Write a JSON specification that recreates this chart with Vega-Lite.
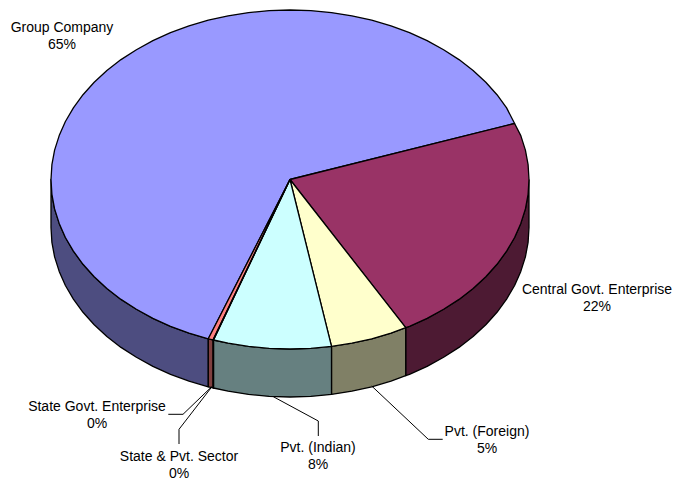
{"$schema":"https://vega.github.io/schema/vega-lite/v6.json","width":677,"height":484,"padding":0,"autosize":{"type":"none"},"background":"white","view":{"stroke":null},"config":{"text":{"lineBreak":"\n"}},
"layer":[
{"data":{"values":[
{"p":"Group Company side","i":0,"x":208.3,"y":338.8},{"p":"Group Company side","i":1,"x":189,"y":333.1},{"p":"Group Company side","i":2,"x":170.5,"y":326.3},{"p":"Group Company side","i":3,"x":152.9,"y":318.4},{"p":"Group Company side","i":4,"x":136.4,"y":309.3},{"p":"Group Company side","i":5,"x":121,"y":299.4},{"p":"Group Company side","i":6,"x":106.9,"y":288.5},{"p":"Group Company side","i":7,"x":94.2,"y":276.7},{"p":"Group Company side","i":8,"x":83,"y":264.3},{"p":"Group Company side","i":9,"x":73.4,"y":251.1},{"p":"Group Company side","i":10,"x":65.4,"y":237.5},{"p":"Group Company side","i":11,"x":59.2,"y":223.4},{"p":"Group Company side","i":12,"x":54.6,"y":208.9},{"p":"Group Company side","i":13,"x":51.9,"y":194.3},{"p":"Group Company side","i":14,"x":51,"y":179.5},{"p":"Group Company side","i":15,"x":51,"y":227.5},{"p":"Group Company side","i":16,"x":51.9,"y":242.3},{"p":"Group Company side","i":17,"x":54.6,"y":256.9},{"p":"Group Company side","i":18,"x":59.2,"y":271.4},{"p":"Group Company side","i":19,"x":65.4,"y":285.5},{"p":"Group Company side","i":20,"x":73.4,"y":299.1},{"p":"Group Company side","i":21,"x":83,"y":312.3},{"p":"Group Company side","i":22,"x":94.2,"y":324.7},{"p":"Group Company side","i":23,"x":106.9,"y":336.5},{"p":"Group Company side","i":24,"x":121,"y":347.4},{"p":"Group Company side","i":25,"x":136.4,"y":357.3},{"p":"Group Company side","i":26,"x":152.9,"y":366.4},{"p":"Group Company side","i":27,"x":170.5,"y":374.3},{"p":"Group Company side","i":28,"x":189,"y":381.1},{"p":"Group Company side","i":29,"x":208.3,"y":386.8},{"p":"Group Company side","i":30,"x":208.3,"y":338.8},
{"p":"Central side","i":0,"x":529,"y":179.5},{"p":"Central side","i":1,"x":528.1,"y":194.3},{"p":"Central side","i":2,"x":525.4,"y":208.9},{"p":"Central side","i":3,"x":520.8,"y":223.4},{"p":"Central side","i":4,"x":514.6,"y":237.5},{"p":"Central side","i":5,"x":506.6,"y":251.1},{"p":"Central side","i":6,"x":497,"y":264.3},{"p":"Central side","i":7,"x":485.8,"y":276.7},{"p":"Central side","i":8,"x":473.1,"y":288.5},{"p":"Central side","i":9,"x":459,"y":299.4},{"p":"Central side","i":10,"x":443.6,"y":309.3},{"p":"Central side","i":11,"x":427.1,"y":318.4},{"p":"Central side","i":12,"x":409.5,"y":326.3},{"p":"Central side","i":13,"x":405.7,"y":327.7},{"p":"Central side","i":14,"x":405.7,"y":375.7},{"p":"Central side","i":15,"x":409.5,"y":374.3},{"p":"Central side","i":16,"x":427.1,"y":366.4},{"p":"Central side","i":17,"x":443.6,"y":357.3},{"p":"Central side","i":18,"x":459,"y":347.4},{"p":"Central side","i":19,"x":473.1,"y":336.5},{"p":"Central side","i":20,"x":485.8,"y":324.7},{"p":"Central side","i":21,"x":497,"y":312.3},{"p":"Central side","i":22,"x":506.6,"y":299.1},{"p":"Central side","i":23,"x":514.6,"y":285.5},{"p":"Central side","i":24,"x":520.8,"y":271.4},{"p":"Central side","i":25,"x":525.4,"y":256.9},{"p":"Central side","i":26,"x":528.1,"y":242.3},{"p":"Central side","i":27,"x":529,"y":227.5},{"p":"Central side","i":28,"x":529,"y":179.5},
{"p":"Foreign side","i":0,"x":405.7,"y":327.7},{"p":"Foreign side","i":1,"x":391,"y":333.1},{"p":"Foreign side","i":2,"x":371.7,"y":338.8},{"p":"Foreign side","i":3,"x":351.9,"y":343.2},{"p":"Foreign side","i":4,"x":331.5,"y":346.4},{"p":"Foreign side","i":5,"x":331.5,"y":394.4},{"p":"Foreign side","i":6,"x":351.9,"y":391.2},{"p":"Foreign side","i":7,"x":371.7,"y":386.8},{"p":"Foreign side","i":8,"x":391,"y":381.1},{"p":"Foreign side","i":9,"x":405.7,"y":375.7},{"p":"Foreign side","i":10,"x":405.7,"y":327.7},
{"p":"Indian side","i":0,"x":331.5,"y":346.4},{"p":"Indian side","i":1,"x":310.8,"y":348.4},{"p":"Indian side","i":2,"x":290,"y":349},{"p":"Indian side","i":3,"x":269.2,"y":348.4},{"p":"Indian side","i":4,"x":248.5,"y":346.4},{"p":"Indian side","i":5,"x":228.1,"y":343.2},{"p":"Indian side","i":6,"x":213.5,"y":340},{"p":"Indian side","i":7,"x":213.5,"y":388},{"p":"Indian side","i":8,"x":228.1,"y":391.2},{"p":"Indian side","i":9,"x":248.5,"y":394.4},{"p":"Indian side","i":10,"x":269.2,"y":396.4},{"p":"Indian side","i":11,"x":290,"y":397},{"p":"Indian side","i":12,"x":310.8,"y":396.4},{"p":"Indian side","i":13,"x":331.5,"y":394.4},{"p":"Indian side","i":14,"x":331.5,"y":346.4},
{"p":"State Govt side","i":0,"x":213.1,"y":339.9},{"p":"State Govt side","i":1,"x":208.3,"y":338.8},{"p":"State Govt side","i":2,"x":208.3,"y":386.8},{"p":"State Govt side","i":3,"x":213.1,"y":387.9},{"p":"State Govt side","i":4,"x":213.1,"y":339.9},
{"p":"State Pvt side","i":0,"x":213.5,"y":340},{"p":"State Pvt side","i":1,"x":213.1,"y":339.9},{"p":"State Pvt side","i":2,"x":213.1,"y":387.9},{"p":"State Pvt side","i":3,"x":213.5,"y":388},{"p":"State Pvt side","i":4,"x":213.5,"y":340},
{"p":"Group Company top","i":0,"x":290,"y":179.5},{"p":"Group Company top","i":1,"x":208.3,"y":338.8},{"p":"Group Company top","i":2,"x":189,"y":333.1},{"p":"Group Company top","i":3,"x":170.5,"y":326.3},{"p":"Group Company top","i":4,"x":152.9,"y":318.4},{"p":"Group Company top","i":5,"x":136.4,"y":309.3},{"p":"Group Company top","i":6,"x":121,"y":299.4},{"p":"Group Company top","i":7,"x":106.9,"y":288.5},{"p":"Group Company top","i":8,"x":94.2,"y":276.7},{"p":"Group Company top","i":9,"x":83,"y":264.3},{"p":"Group Company top","i":10,"x":73.4,"y":251.1},{"p":"Group Company top","i":11,"x":65.4,"y":237.5},{"p":"Group Company top","i":12,"x":59.2,"y":223.4},{"p":"Group Company top","i":13,"x":54.6,"y":208.9},{"p":"Group Company top","i":14,"x":51.9,"y":194.3},{"p":"Group Company top","i":15,"x":51,"y":179.5},{"p":"Group Company top","i":16,"x":51.9,"y":164.7},{"p":"Group Company top","i":17,"x":54.6,"y":150.1},{"p":"Group Company top","i":18,"x":59.2,"y":135.6},{"p":"Group Company top","i":19,"x":65.4,"y":121.5},{"p":"Group Company top","i":20,"x":73.4,"y":107.9},{"p":"Group Company top","i":21,"x":83,"y":94.7},{"p":"Group Company top","i":22,"x":94.2,"y":82.3},{"p":"Group Company top","i":23,"x":106.9,"y":70.5},{"p":"Group Company top","i":24,"x":121,"y":59.6},{"p":"Group Company top","i":25,"x":136.4,"y":49.7},{"p":"Group Company top","i":26,"x":152.9,"y":40.6},{"p":"Group Company top","i":27,"x":170.5,"y":32.7},{"p":"Group Company top","i":28,"x":189,"y":25.9},{"p":"Group Company top","i":29,"x":208.3,"y":20.2},{"p":"Group Company top","i":30,"x":228.1,"y":15.8},{"p":"Group Company top","i":31,"x":248.5,"y":12.6},{"p":"Group Company top","i":32,"x":269.2,"y":10.6},{"p":"Group Company top","i":33,"x":290,"y":10},{"p":"Group Company top","i":34,"x":310.8,"y":10.6},{"p":"Group Company top","i":35,"x":331.5,"y":12.6},{"p":"Group Company top","i":36,"x":351.9,"y":15.8},{"p":"Group Company top","i":37,"x":371.7,"y":20.2},{"p":"Group Company top","i":38,"x":391,"y":25.9},{"p":"Group Company top","i":39,"x":409.5,"y":32.7},{"p":"Group Company top","i":40,"x":427.1,"y":40.6},{"p":"Group Company top","i":41,"x":443.6,"y":49.7},{"p":"Group Company top","i":42,"x":459,"y":59.6},{"p":"Group Company top","i":43,"x":473.1,"y":70.5},{"p":"Group Company top","i":44,"x":485.8,"y":82.3},{"p":"Group Company top","i":45,"x":497,"y":94.7},{"p":"Group Company top","i":46,"x":506.6,"y":107.9},{"p":"Group Company top","i":47,"x":514.6,"y":123.5},{"p":"Group Company top","i":48,"x":290,"y":179.5},
{"p":"Central top","i":0,"x":290,"y":179.5},{"p":"Central top","i":1,"x":514.6,"y":123.5},{"p":"Central top","i":2,"x":520.8,"y":135.6},{"p":"Central top","i":3,"x":525.4,"y":150.1},{"p":"Central top","i":4,"x":528.1,"y":164.7},{"p":"Central top","i":5,"x":529,"y":179.5},{"p":"Central top","i":6,"x":528.1,"y":194.3},{"p":"Central top","i":7,"x":525.4,"y":208.9},{"p":"Central top","i":8,"x":520.8,"y":223.4},{"p":"Central top","i":9,"x":514.6,"y":237.5},{"p":"Central top","i":10,"x":506.6,"y":251.1},{"p":"Central top","i":11,"x":497,"y":264.3},{"p":"Central top","i":12,"x":485.8,"y":276.7},{"p":"Central top","i":13,"x":473.1,"y":288.5},{"p":"Central top","i":14,"x":459,"y":299.4},{"p":"Central top","i":15,"x":443.6,"y":309.3},{"p":"Central top","i":16,"x":427.1,"y":318.4},{"p":"Central top","i":17,"x":409.5,"y":326.3},{"p":"Central top","i":18,"x":405.7,"y":327.7},{"p":"Central top","i":19,"x":290,"y":179.5},
{"p":"Foreign top","i":0,"x":290,"y":179.5},{"p":"Foreign top","i":1,"x":405.7,"y":327.7},{"p":"Foreign top","i":2,"x":391,"y":333.1},{"p":"Foreign top","i":3,"x":371.7,"y":338.8},{"p":"Foreign top","i":4,"x":351.9,"y":343.2},{"p":"Foreign top","i":5,"x":331.5,"y":346.4},{"p":"Foreign top","i":6,"x":290,"y":179.5},
{"p":"Indian top","i":0,"x":290,"y":179.5},{"p":"Indian top","i":1,"x":331.5,"y":346.4},{"p":"Indian top","i":2,"x":310.8,"y":348.4},{"p":"Indian top","i":3,"x":290,"y":349},{"p":"Indian top","i":4,"x":269.2,"y":348.4},{"p":"Indian top","i":5,"x":248.5,"y":346.4},{"p":"Indian top","i":6,"x":228.1,"y":343.2},{"p":"Indian top","i":7,"x":213.5,"y":340},{"p":"Indian top","i":8,"x":290,"y":179.5},
{"p":"State Govt top","i":0,"x":290,"y":179.5},{"p":"State Govt top","i":1,"x":213.1,"y":339.9},{"p":"State Govt top","i":2,"x":208.3,"y":338.8},{"p":"State Govt top","i":3,"x":290,"y":179.5},
{"p":"State Pvt top","i":0,"x":290,"y":179.5},{"p":"State Pvt top","i":1,"x":213.5,"y":340},{"p":"State Pvt top","i":2,"x":213.1,"y":339.9},{"p":"State Pvt top","i":3,"x":290,"y":179.5}
]},
"mark":{"type":"line","stroke":"#000000","strokeWidth":1.3,"strokeJoin":"round","clip":false},
"encoding":{
"x":{"field":"x","type":"quantitative","axis":null,"scale":{"domain":[0,677],"range":[0,677],"nice":false,"zero":false}},
"y":{"field":"y","type":"quantitative","axis":null,"scale":{"domain":[0,484],"range":[0,484],"nice":false,"zero":false}},
"order":{"field":"i","type":"quantitative"},
"detail":{"field":"p"},
"fill":{"field":"p","type":"nominal","legend":null,"scale":{
"domain":["Group Company side","Central side","Foreign side","Indian side","State Pvt side","State Govt side","Group Company top","Central top","Foreign top","Indian top","State Pvt top","State Govt top"],
"range":["#4D4D80","#4D1A33","#808066","#668080","#330033","#804040","#9999FF","#993366","#FFFFCC","#CCFFFF","#660066","#FF8080"]}}
}},
{"data":{"values":[
{"l":"State Govt","i":0,"x":168.3,"y":414.3},{"l":"State Govt","i":1,"x":183,"y":414.3},{"l":"State Govt","i":2,"x":211.7,"y":386.7},
{"l":"State Pvt","i":0,"x":179,"y":444},{"l":"State Pvt","i":1,"x":179,"y":429.3},{"l":"State Pvt","i":2,"x":211.7,"y":387},
{"l":"Indian","i":0,"x":318.3,"y":436},{"l":"Indian","i":1,"x":318.3,"y":421},{"l":"Indian","i":2,"x":273.3,"y":396.7},
{"l":"Foreign","i":0,"x":442.7,"y":439.3},{"l":"Foreign","i":1,"x":428.3,"y":439.3},{"l":"Foreign","i":2,"x":371.7,"y":386}
]},
"mark":{"type":"line","stroke":"#000000","strokeWidth":1},
"encoding":{
"x":{"field":"x","type":"quantitative","axis":null,"scale":{"domain":[0,677],"range":[0,677],"nice":false,"zero":false}},
"y":{"field":"y","type":"quantitative","axis":null,"scale":{"domain":[0,484],"range":[0,484],"nice":false,"zero":false}},
"order":{"field":"i","type":"quantitative"},
"detail":{"field":"l"}
}},
{"data":{"values":[
{"label":"Group Company\n65%","share":65,"x":62,"y":32},
{"label":"Central Govt. Enterprise\n22%","share":22,"x":597,"y":294},
{"label":"Pvt. (Foreign)\n5%","share":5,"x":487,"y":436},
{"label":"Pvt. (Indian)\n8%","share":8,"x":318,"y":452},
{"label":"State & Pvt. Sector\n0%","share":0,"x":179,"y":461},
{"label":"State Govt. Enterprise\n0%","share":0,"x":97,"y":411}
]},
"mark":{"type":"text","font":"Liberation Sans","fontSize":14,"lineHeight":17,"align":"center","baseline":"alphabetic","color":"#000000","lineBreak":"\n"},
"encoding":{
"x":{"field":"x","type":"quantitative","axis":null,"scale":{"domain":[0,677],"range":[0,677],"nice":false,"zero":false}},
"y":{"field":"y","type":"quantitative","axis":null,"scale":{"domain":[0,484],"range":[0,484],"nice":false,"zero":false}},
"text":{"field":"label"}
}}
]}
